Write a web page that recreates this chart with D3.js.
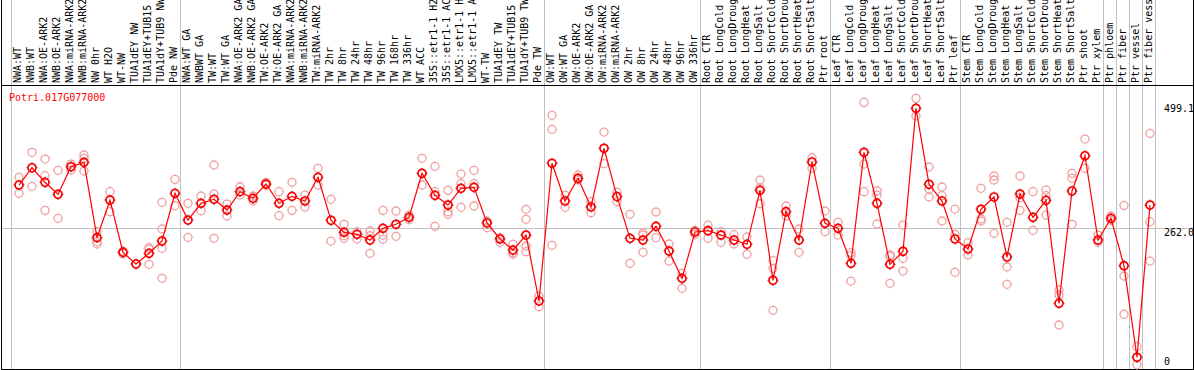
<!DOCTYPE html>
<html>
<head>
<meta charset="utf-8">
<script src="https://cdn.jsdelivr.net/npm/d3@7"></script>
<style>
  body { margin: 0; background: #fff; }
  svg { display: block; }
  text { font-family: "DejaVu Sans Mono", monospace; font-size: 10px; }
</style>
</head>
<body>
<div id="chart"></div>
<script>

const geneName = 'Potri.017G077000';

const categories = [
  'NWA:WT', 'NWB:WT', 'NWA:OE-ARK2', 'NWB:OE-ARK2', 'NWA:miRNA-ARK2', 'NWB:miRNA-ARK2',
  'NW 0hr', 'WT H2O', 'WT-NW', 'TUA1dEY NW', 'TUA1dEY+TUB15 NW', 'TUA1dY+TUB9 NW', 'Pde NW',
  'NWA:WT GA', 'NWBWT GA', 'TW:WT', 'TW:WT GA', 'NWA:OE-ARK2 GA', 'NWB:OE-ARK2 GA',
  'TW:OE-ARK2', 'TW:OE-ARK2 GA', 'NWA:miRNA-ARK2', 'NWB:miRNA-ARK2', 'TW:miRNA-ARK2',
  'TW 2hr', 'TW 8hr', 'TW 24hr', 'TW 48hr', 'TW 96hr', 'TW 168hr', 'TW 336hr', 'WT ACC',
  '35S::etr1-1 H2O', '35S::etr1-1 ACC', 'LMX5::etr1-1 H2O', 'LMX5::etr1-1 ACC', 'WT-TW',
  'TUA1dEY TW', 'TUA1dEY+TUB15 TW', 'TUA1dY+TUB9 TW', 'Pde TW',
  'OW:WT', 'OW:WT GA', 'OW:OE-ARK2', 'OW:OE-ARK2 GA', 'OW:miRNA-ARK2', 'OW:miRNA-ARK2',
  'OW 2hr', 'OW 8hr', 'OW 24hr', 'OW 48hr', 'OW 96hr', 'OW 336hr',
  'Root CTR', 'Root LongCold', 'Root LongDrought', 'Root LongHeat', 'Root LongSalt',
  'Root ShortCold', 'Root ShortDrought', 'Root ShortHeat', 'Root ShortSalt', 'Ptr root',
  'Leaf CTR', 'Leaf LongCold', 'Leaf LongDrought', 'Leaf LongHeat', 'Leaf LongSalt',
  'Leaf ShortCold', 'Leaf ShortDrought', 'Leaf ShortHeat', 'Leaf ShortSalt', 'Ptr leaf',
  'Stem CTR', 'Stem LongCold', 'Stem LongDrought', 'Stem LongHeat', 'Stem LongSalt',
  'Stem ShortCold', 'Stem ShortDrought', 'Stem ShortHeat', 'Stem ShortSalt', 'Ptr shoot', 'Ptr xylem',
  'Ptr phloem', 'Ptr fiber', 'Ptr vessel', 'Ptr fiber vessel'
];

// index of the first category of every block (grey separators)
const groupStarts = [0, 13, 41, 53, 63, 73, 84, 85, 86, 87];

const means = [
  345.1, 378.3, 350.3, 327.3, 380.2, 388.7, 244.0, 316.3, 215.9, 193.5, 214.0, 237.6, 329.2,
  277.9, 310.0, 317.7, 297.1, 332.3, 319.6, 347.0, 310.0, 323.4, 314.4, 359.9, 277.4, 254.3,
  250.5, 239.5, 262.0, 269.7, 283.1, 367.6, 325.3, 306.7, 338.8, 340.7, 272.2, 241.5, 220.3,
  249.1, 122.5,
  386.8, 314.4, 358.0, 302.9, 415.6, 322.7, 242.8, 239.5, 265.8, 218.4, 166.0, 254.9,
  257.4, 249.1, 239.5, 231.3, 334.9, 162.2, 293.9, 239.5, 389.3, 271.6,
  262.0, 194.8, 407.9, 310.0, 192.9, 217.9, 492.3, 346.5, 314.4, 241.5,
  222.3, 298.5, 322.1, 206.9, 327.8, 283.1, 315.7, 118.0, 333.6, 401.3, 239.5,
  281.2, 190.2, 14.4, 306.7
];

const replicates = [
  [359.9, 329.2], [407.9, 342.6], [395.0, 363.0, 296.5], [373.3, 281.2], [385.4, 373.9, 380.0],
  [402.7, 396.4, 372.0], [255.5, 236.3, 231.9], [332.3, 293.9], [213.0, 218.0], [193.5],
  [224.8, 222.0, 192.9], [311.9, 260.7, 223.6, 166.0], [356.0, 305.4],
  [310.0, 244.7], [324.0, 295.8], [383.5, 327.8, 242.8], [308.6, 285.6], [341.8, 325.9],
  [324.0, 314.4], [350.3, 345.1], [332.3, 286.2], [350.3, 296.5], [325.9, 302.9],
  [377.2, 345.1], [317.7, 237.6], [269.7, 247.8, 242.8], [255.5, 241.5], [256.8, 214.0, 247.7],
  [296.5, 249.1, 240.9], [295.2, 246.6], [287.5, 278.5], [396.4, 345.1], [381.0, 332.3, 265.8],
  [334.9, 293.9, 288.9], [366.2, 347.6, 302.3], [373.3, 347.6, 304.8], [276.0, 263.2],
  [244.0, 235.1], [231.3, 215.2, 212.1], [298.5, 279.3, 228.0, 217.1], [132.0, 111.5],
  [478.9, 452.0, 229.4], [325.9, 302.3], [364.3, 354.7], [313.1, 291.9], [446.8, 386.0],
  [331.1, 313.1], [288.9, 194.8], [249.1, 215.9, 253.0], [293.3, 244.0], [231.9, 199.2],
  [175.6, 146.8], [258.2, 250.5],
  [268.3, 242.8], [255.5, 235.1], [249.7, 231.9], [245.3, 212.1], [354.7, 339.9, 309.2],
  [199.8, 185.2, 104.6], [304.8, 285.6], [260.7, 215.9], [397.5, 377.2], [295.2, 255.5],
  [273.5, 249.1], [215.2, 209.4, 160.8], [503.8, 385.4, 332.3], [333.6, 325.9, 270.3],
  [210.8, 208.0, 156.4], [268.3, 204.4, 180.0], [511.5, 477.5], [379.7, 337.4, 322.1],
  [341.3, 324.6, 276.0], [299.0, 250.5, 177.5],
  [234.4, 210.8], [338.8, 279.9, 276.0], [362.4, 354.7, 252.4], [273.5, 187.7, 154.5],
  [362.4, 320.7, 296.5], [332.3, 258.2], [335.5, 324.6, 287.5], [143.6, 134.0, 76.4],
  [367.6, 358.0, 269.7], [433.4, 377.2], [249.1, 235.1],
  [285.6, 277.0], [306.1, 170.4, 97.0], [34.7, 0.0], [444.3, 274.7, 199.2]
];

const yTicks = [0, 262.0, 499.1];

const W = 1194, H = 370;
const headerBottom = 85, plotBottom = 369;

const svg = d3.select('#chart')
  .append('svg')
  .attr('width', W)
  .attr('height', H);

// categories repeat (e.g. NWA:miRNA-ARK2), so the scale runs on the index
const x = d3.scalePoint()
  .domain(d3.range(categories.length))
  .range([19, 1150]);

const y = d3.scaleLinear()
  .domain([0, 499.1])
  .range([364.8, 104.8]);

// grey separators
const sepX = groupStarts.map(i => x(i) - 8).concat([x(categories.length - 1) + 5]);
svg.selectAll('.sep')
  .data(sepX)
  .enter().append('line')
  .attr('class', 'sep')
  .attr('x1', d => Math.round(d) + 0.5).attr('x2', d => Math.round(d) + 0.5)
  .attr('y1', 0).attr('y2', H)
  .attr('stroke', '#c0c0c0')
  .attr('stroke-width', 1);

// grid line at middle tick
svg.append('line')
  .attr('x1', 1).attr('x2', 1193)
  .attr('y1', Math.round(y(yTicks[1])) + 0.5)
  .attr('y2', Math.round(y(yTicks[1])) + 0.5)
  .attr('stroke', '#c0c0c0');

// frame
const frame = [
  [1.5, 0, 1.5, H], [1193.5, 0, 1193.5, H],
  [1, headerBottom + 0.5, 1194, headerBottom + 0.5],
  [1, plotBottom + 0.5, 1194, plotBottom + 0.5]
];
svg.selectAll('.frame')
  .data(frame)
  .enter().append('line')
  .attr('x1', d => d[0]).attr('y1', d => d[1])
  .attr('x2', d => d[2]).attr('y2', d => d[3])
  .attr('stroke', '#000');

// category labels, reading upwards from the header's bottom edge
// (long ones run off the top, as in the original)
svg.selectAll('.cat')
  .data(categories)
  .enter().append('text')
  .attr('class', 'cat')
  .attr('transform', (d, i) => `translate(${x(i) + 1.5},83) rotate(-90)`)
  .attr('text-anchor', 'start')
  .attr('fill', '#000')
  .text(d => d);

// y labels
svg.selectAll('.ylab')
  .data(yTicks)
  .enter().append('text')
  .attr('class', 'ylab')
  .attr('x', 1164)
  .attr('y', (d, i) => i === 0 ? y(d) : y(d) + 7.5)
  .text(d => d === 0 ? '0' : d.toFixed(1));

// gene name
svg.append('text')
  .attr('x', 9)
  .attr('y', 101)
  .attr('fill', '#ff0000')
  .text(geneName);

// ring marker with tiny ticks, like the original plot
function marker(sel, ring, tick, sw) {
  sel.append('circle')
    .attr('r', 4)
    .attr('fill', 'none')
    .attr('stroke', ring)
    .attr('stroke-width', sw);
  sel.append('path')
    .attr('d', 'M0,-5.4V-4.6M0,4.6V5.4M-5.4,0H-4.6M4.6,0H5.4')
    .attr('stroke', tick)
    .attr('stroke-width', 1);
}

// replicate circles
const reps = [];
replicates.forEach((r, i) => r.forEach(v => reps.push({i: i, v: v})));
svg.selectAll('.rep')
  .data(reps)
  .enter().append('g')
  .attr('class', 'rep')
  .attr('transform', d => `translate(${x(d.i)},${y(d.v)})`)
  .call(marker, '#f0a0a0', '#f4b8b8', 1.3);

// mean line
const line = d3.line()
  .x((d, i) => x(i))
  .y(d => y(d));
svg.append('path')
  .datum(means)
  .attr('d', line)
  .attr('fill', 'none')
  .attr('stroke', '#ff0000')
  .attr('stroke-width', 1.2);

// mean circles
svg.selectAll('.mean')
  .data(means)
  .enter().append('g')
  .attr('class', 'mean')
  .attr('transform', (d, i) => `translate(${x(i)},${y(d)})`)
  .call(marker, '#ff0000', '#400000', 1.7);

</script>
</body>
</html>
